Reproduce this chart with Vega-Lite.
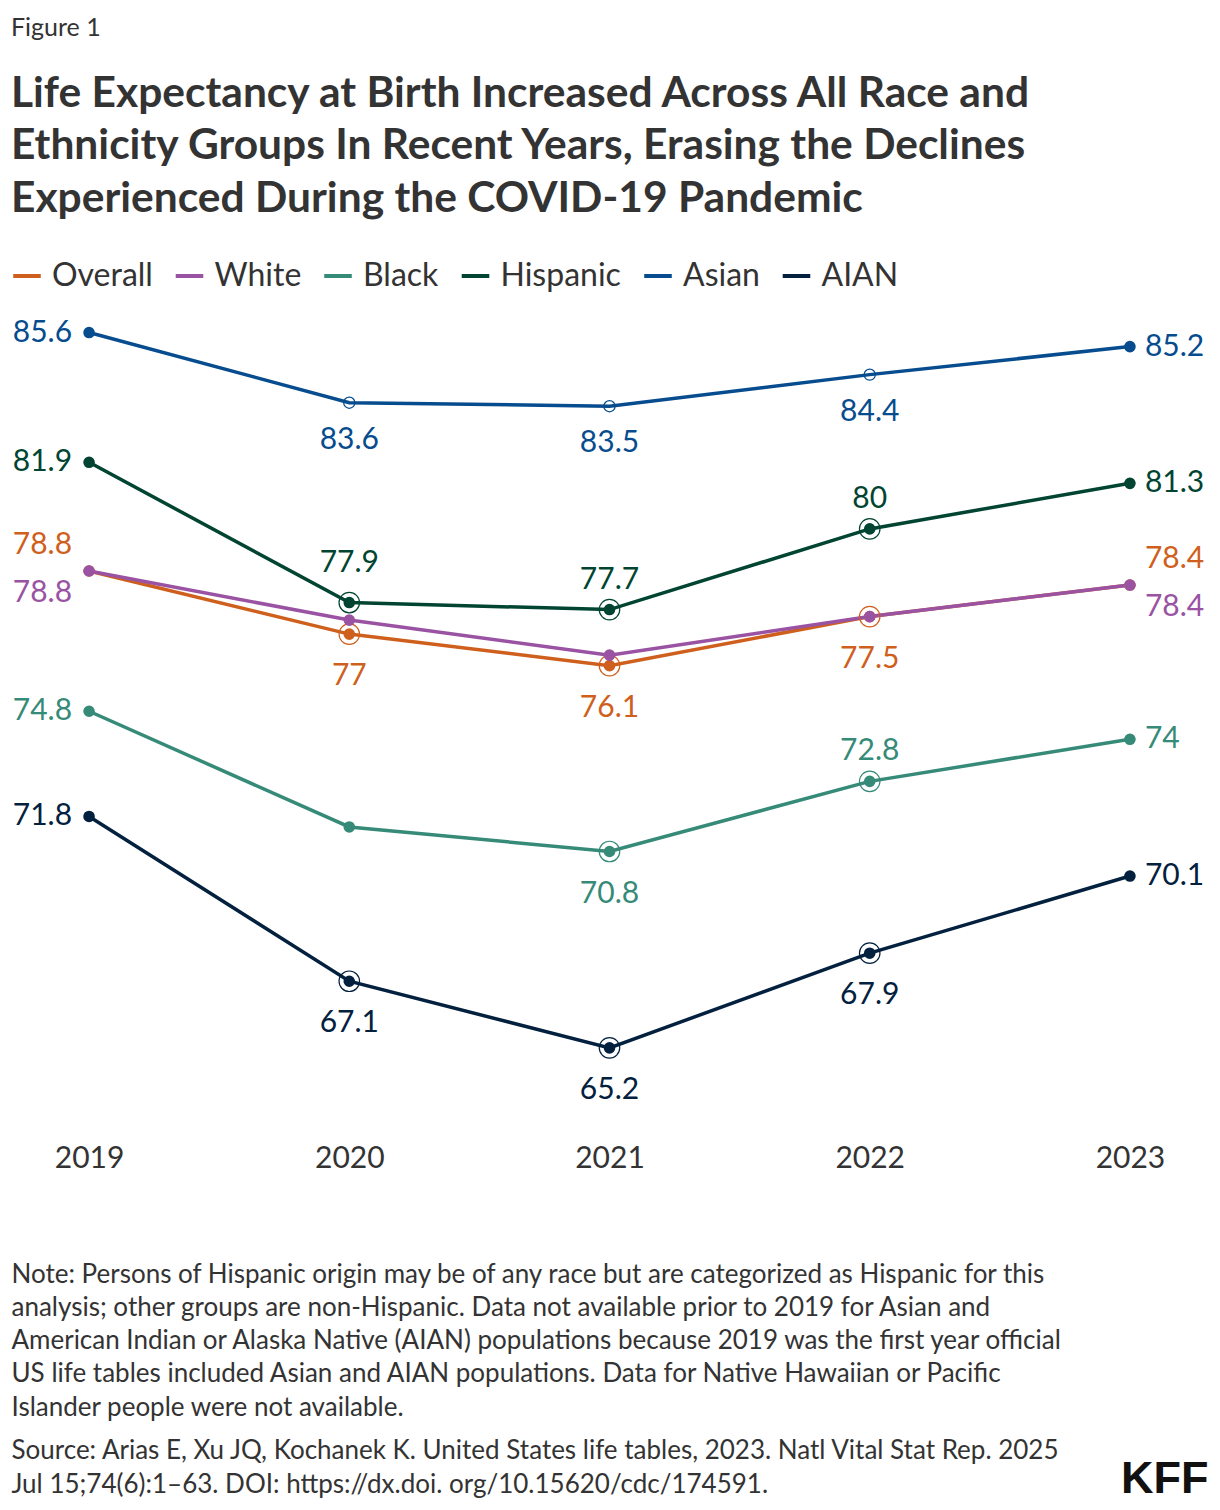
{
  "$schema": "https://vega.github.io/schema/vega-lite/v6.json",
  "width": 1197,
  "height": 824,
  "autosize": {"type": "none"},
  "padding": {"left": 11, "top": 301, "right": 12, "bottom": 385},
  "config": {
    "font": "Lato",
    "view": {"stroke": null},
    "axis": {"grid": false}
  },
  "title": {
    "text": "Figure 1",
    "subtitle": [
      "Life Expectancy at Birth Increased Across All Race and",
      "Ethnicity Groups In Recent Years, Erasing the Declines",
      "Experienced During the COVID-19 Pandemic"
    ],
    "anchor": "start",
    "frame": "group",
    "fontSize": 25,
    "fontWeight": "normal",
    "color": "#333333",
    "subtitleFont": "Lato",
    "subtitleFontSize": 42.5,
    "subtitleFontWeight": "bold",
    "subtitleColor": "#333333",
    "subtitleLineHeight": 52.5,
    "subtitlePadding": 32,
    "offset": 40
  },
  "data": {
    "values": [
      {"series": "Overall", "year": 2019, "value": 78.8},
      {"series": "Overall", "year": 2020, "value": 77.0},
      {"series": "Overall", "year": 2021, "value": 76.1},
      {"series": "Overall", "year": 2022, "value": 77.5},
      {"series": "Overall", "year": 2023, "value": 78.4},
      {"series": "White", "year": 2019, "value": 78.8},
      {"series": "White", "year": 2020, "value": 77.4},
      {"series": "White", "year": 2021, "value": 76.4},
      {"series": "White", "year": 2022, "value": 77.5},
      {"series": "White", "year": 2023, "value": 78.4},
      {"series": "Black", "year": 2019, "value": 74.8},
      {"series": "Black", "year": 2020, "value": 71.5},
      {"series": "Black", "year": 2021, "value": 70.8},
      {"series": "Black", "year": 2022, "value": 72.8},
      {"series": "Black", "year": 2023, "value": 74.0},
      {"series": "Hispanic", "year": 2019, "value": 81.9},
      {"series": "Hispanic", "year": 2020, "value": 77.9},
      {"series": "Hispanic", "year": 2021, "value": 77.7},
      {"series": "Hispanic", "year": 2022, "value": 80.0},
      {"series": "Hispanic", "year": 2023, "value": 81.3},
      {"series": "Asian", "year": 2019, "value": 85.6},
      {"series": "Asian", "year": 2020, "value": 83.6},
      {"series": "Asian", "year": 2021, "value": 83.5},
      {"series": "Asian", "year": 2022, "value": 84.4},
      {"series": "Asian", "year": 2023, "value": 85.2},
      {"series": "AIAN", "year": 2019, "value": 71.8},
      {"series": "AIAN", "year": 2020, "value": 67.1},
      {"series": "AIAN", "year": 2021, "value": 65.2},
      {"series": "AIAN", "year": 2022, "value": 67.9},
      {"series": "AIAN", "year": 2023, "value": 70.1}
    ]
  },
  "encoding": {
    "x": {
      "field": "year",
      "type": "ordinal",
      "scale": {"type": "point", "padding": 0.3},
      "axis": {
        "labelAngle": 0,
        "labelFontSize": 30,
        "labelColor": "#333333",
        "labelPadding": 18,
        "ticks": false,
        "tickSize": 0,
        "domain": false,
        "title": [
          "Note: Persons of Hispanic origin may be of any race but are categorized as Hispanic for this",
          "analysis; other groups are non-Hispanic. Data not available prior to 2019 for Asian and",
          "American Indian or Alaska Native (AIAN) populations because 2019 was the first year official",
          "US life tables included Asian and AIAN populations. Data for Native Hawaiian or  Pacific",
          "Islander people were not available."
        ],
        "titleFontSize": 26,
        "titleFontWeight": "normal",
        "titleColor": "#333333",
        "titleAnchor": "start",
        "titleAlign": "left",
        "titleBaseline": "alphabetic",
        "titleX": 0,
        "titleY": 157,
        "titleLineHeight": 33.3,
        "titleLimit": 1300
      }
    },
    "y": {
      "field": "value",
      "type": "quantitative",
      "scale": {"domain": [63, 86.5], "nice": false, "zero": false},
      "axis": {
        "orient": "left",
        "labels": false,
        "ticks": false,
        "domain": false,
        "grid": false,
        "title": [
          "Source: Arias E, Xu JQ, Kochanek K. United States life tables, 2023. Natl Vital Stat Rep. 2025",
          "Jul 15;74(6):1–63. DOI: https://dx.doi. org/10.15620/cdc/174591."
        ],
        "titleAngle": 0,
        "titleAlign": "left",
        "titleBaseline": "alphabetic",
        "titleX": 0,
        "titleY": 1157,
        "titleFontSize": 26,
        "titleFontWeight": "normal",
        "titleColor": "#333333",
        "titleLineHeight": 34,
        "titleLimit": 1300
      }
    },
    "color": {
      "field": "series",
      "type": "nominal",
      "scale": {
        "domain": ["Overall", "White", "Black", "Hispanic", "Asian", "AIAN"],
        "range": ["#CF5F1C", "#9A52A3", "#368A78", "#004431", "#064C8E", "#03213E"]
      },
      "legend": null
    }
  },
  "layer": [
    {
      "mark": {"type": "line", "strokeWidth": 3.5},
      "encoding": {
        "y": {
          "field": "value",
          "type": "quantitative",
          "scale": {"domain": [63, 86.5], "nice": false, "zero": false},
          "axis": {
            "orient": "right",
            "labels": false,
            "ticks": false,
            "domain": false,
            "grid": false,
            "title": "KFF",
            "titleAngle": 0,
            "titleAlign": "right",
            "titleBaseline": "alphabetic",
            "titleX": 0,
            "titleY": 1191,
            "titleFont": "Liberation Sans",
            "titleFontSize": 45,
            "titleFontWeight": "bold",
            "titleColor": "#111111"
          }
        },
        "color": {
          "field": "series",
          "type": "nominal",
          "scale": {
            "domain": ["Overall", "White", "Black", "Hispanic", "Asian", "AIAN"],
            "range": ["#CF5F1C", "#9A52A3", "#368A78", "#004431", "#064C8E", "#03213E"]
          },
          "legend": {
            "title": null,
            "orient": "none",
            "legendX": 0,
            "legendY": -41,
            "direction": "horizontal",
            "symbolType": "stroke",
            "symbolSize": 760,
            "symbolStrokeWidth": 4,
            "labelFontSize": 32,
            "labelColor": "#333333",
            "labelOffset": 9,
            "columnPadding": 14.5,
            "padding": 0,
            "labelLimit": 400
          }
        }
      }
    },
    {
      "layer": [
        {
          "transform": [{"filter": "(datum.year > 2019 && datum.year < 2023) && (datum.series == 'Hispanic' || datum.series == 'Overall' || datum.series == 'AIAN' || (datum.series == 'Black' && datum.year > 2020))"}],
          "mark": {"type": "point", "filled": false, "size": 420, "strokeWidth": 1.2, "opacity": 1}
        },
        {
          "transform": [{"filter": "datum.series == 'Asian' && datum.year > 2019 && datum.year < 2023"}],
          "mark": {"type": "point", "filled": false, "size": 125, "strokeWidth": 1.3, "opacity": 1}
        },
        {
          "transform": [{"filter": "!(datum.series == 'Asian' && datum.year > 2019 && datum.year < 2023)"}],
          "mark": {"type": "point", "filled": true, "size": 135, "opacity": 1}
        },
        {
          "transform": [{"filter": "datum.year == 2019 && datum.series != 'Overall' && datum.series != 'White'"}],
          "mark": {"type": "text", "align": "right", "baseline": "middle", "dx": -17, "fontSize": 30},
          "encoding": {"text": {"field": "value", "type": "quantitative"}}
        },
        {
          "transform": [{"filter": "datum.year == 2019 && datum.series == 'Overall'"}],
          "mark": {"type": "text", "align": "right", "baseline": "middle", "dx": -17, "dy": -26, "fontSize": 30},
          "encoding": {"text": {"field": "value", "type": "quantitative"}}
        },
        {
          "transform": [{"filter": "datum.year == 2019 && datum.series == 'White'"}],
          "mark": {"type": "text", "align": "right", "baseline": "middle", "dx": -17, "dy": 22, "fontSize": 30},
          "encoding": {"text": {"field": "value", "type": "quantitative"}}
        },
        {
          "transform": [{"filter": "datum.year == 2023 && datum.series != 'Overall' && datum.series != 'White'"}],
          "mark": {"type": "text", "align": "left", "baseline": "middle", "dx": 15, "fontSize": 30},
          "encoding": {"text": {"field": "value", "type": "quantitative"}}
        },
        {
          "transform": [{"filter": "datum.year == 2023 && datum.series == 'Overall'"}],
          "mark": {"type": "text", "align": "left", "baseline": "middle", "dx": 15, "dy": -26, "fontSize": 30},
          "encoding": {"text": {"field": "value", "type": "quantitative"}}
        },
        {
          "transform": [{"filter": "datum.year == 2023 && datum.series == 'White'"}],
          "mark": {"type": "text", "align": "left", "baseline": "middle", "dx": 15, "dy": 22, "fontSize": 30},
          "encoding": {"text": {"field": "value", "type": "quantitative"}}
        },
        {
          "transform": [{"filter": "datum.series == 'Hispanic' && datum.year == 2020"}],
          "mark": {"type": "text", "align": "center", "baseline": "middle", "dy": -40, "fontSize": 30},
          "encoding": {"text": {"field": "value", "type": "quantitative"}}
        },
        {
          "transform": [{"filter": "(datum.series == 'Hispanic' && (datum.year == 2021 || datum.year == 2022)) || (datum.series == 'Black' && datum.year == 2022)"}],
          "mark": {"type": "text", "align": "center", "baseline": "middle", "dy": -30, "fontSize": 30},
          "encoding": {"text": {"field": "value", "type": "quantitative"}}
        },
        {
          "transform": [{"filter": "datum.series == 'Asian' && datum.year > 2019 && datum.year < 2023"}],
          "mark": {"type": "text", "align": "center", "baseline": "middle", "dy": 37, "fontSize": 30},
          "encoding": {"text": {"field": "value", "type": "quantitative"}}
        },
        {
          "transform": [{"filter": "(datum.year > 2019 && datum.year < 2023) && (datum.series == 'Overall' || datum.series == 'AIAN' || (datum.series == 'Black' && datum.year == 2021))"}],
          "mark": {"type": "text", "align": "center", "baseline": "middle", "dy": 42, "fontSize": 30},
          "encoding": {"text": {"field": "value", "type": "quantitative"}}
        }
      ]
    }
  ],
  "resolve": {"axis": {"y": "independent"}}
}
